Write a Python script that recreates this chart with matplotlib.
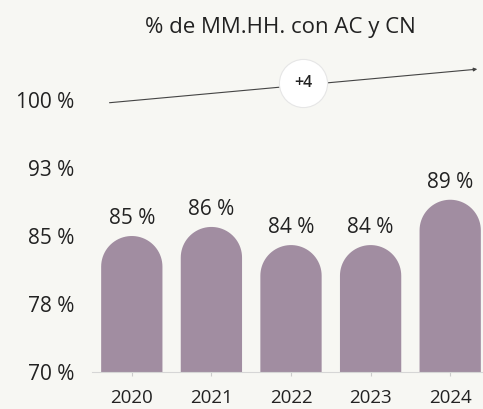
import matplotlib
matplotlib.use('Agg')
import numpy as np
import matplotlib.pyplot as plt
from matplotlib.path import Path
from matplotlib.patches import PathPatch

# data
years = ['2020', '2021', '2022', '2023', '2024']
values = [85, 86, 84, 84, 89]
bar_labels = ['85 %', '86 %', '84 %', '84 %', '89 %']
ytick_vals = [70, 77.5, 85, 92.5, 100]
ytick_labels = ['70 %', '78 %', '85 %', '93 %', '100 %']
trend_label = '+4'

bg = '#F7F7F3'
bar_color = '#A18DA1'
text_color = '#222222'

plt.rcParams['font.family'] = ['Open Sans', 'DejaVu Sans']

fig = plt.figure(figsize=(4.83, 4.09), dpi=100, facecolor=bg)
ax = fig.add_axes([92 / 483, 37 / 409, 398 / 483, 272 / 409])
ax.set_facecolor(bg)
ax.set_xlim(-0.5, 4.5)
ax.set_ylim(70, 100)

width = 0.77
# radius of the rounded top, in y data units (half the bar width in pixels)
px_per_x = 398 / 5
px_per_y = 272 / 30
r_y = (width * px_per_x / 2) / px_per_y
t = np.linspace(0, np.pi, 40)

x = range(len(years))
for i, v in zip(x, values):
    # rounded-top bar as one path
    arc_x = i + (width / 2) * np.cos(t)
    arc_y = (v - r_y) + r_y * np.sin(t)
    xs = np.concatenate([[i + width / 2], arc_x, [i - width / 2]])
    ys = np.concatenate([[70], arc_y, [70]])
    ax.add_patch(PathPatch(Path(np.column_stack([xs, ys])), facecolor=bar_color,
                           lw=0, zorder=2))
    ax.annotate(bar_labels[i], (i, v), xytext=(0, 5), textcoords='offset points',
                ha='center', va='bottom', fontsize=15, color=text_color)

ax.set_yticks(ytick_vals)
ax.set_yticklabels(ytick_labels, fontsize=15, color=text_color)
ax.tick_params(axis='y', length=0, pad=13)
ax.set_xticks(list(x))
ax.set_xticklabels(years, fontsize=13.5, color=text_color)
ax.tick_params(axis='x', length=3, color='#cccccc', pad=9)

for s in ['top', 'right', 'left']:
    ax.spines[s].set_visible(False)
ax.spines['bottom'].set_color('#d6d6d6')
ax.spines['bottom'].set_bounds(-0.5, 4.5)

# trend line with badge
ax.annotate('', xy=(4.34, 103.4), xytext=(-0.28, 99.7),
            arrowprops=dict(arrowstyle='-|>', color='#444444', lw=0.8,
                            mutation_scale=5, shrinkA=0, shrinkB=0),
            annotation_clip=False)
ax.scatter([2.15], [101.9], s=1200, color='white', edgecolors='#e6e6e6',
           linewidths=0.8, zorder=5, clip_on=False)
ax.text(2.15, 101.9, trend_label, ha='center', va='center', fontsize=11.5,
        fontweight='semibold', color=text_color, zorder=6)

fig.text(280 / 483, 1 - 27 / 409, '% de MM.HH. con AC y CN', ha='center', va='center',
         fontsize=16, color=text_color)

fig.savefig('out.png', dpi=100, facecolor=bg)
